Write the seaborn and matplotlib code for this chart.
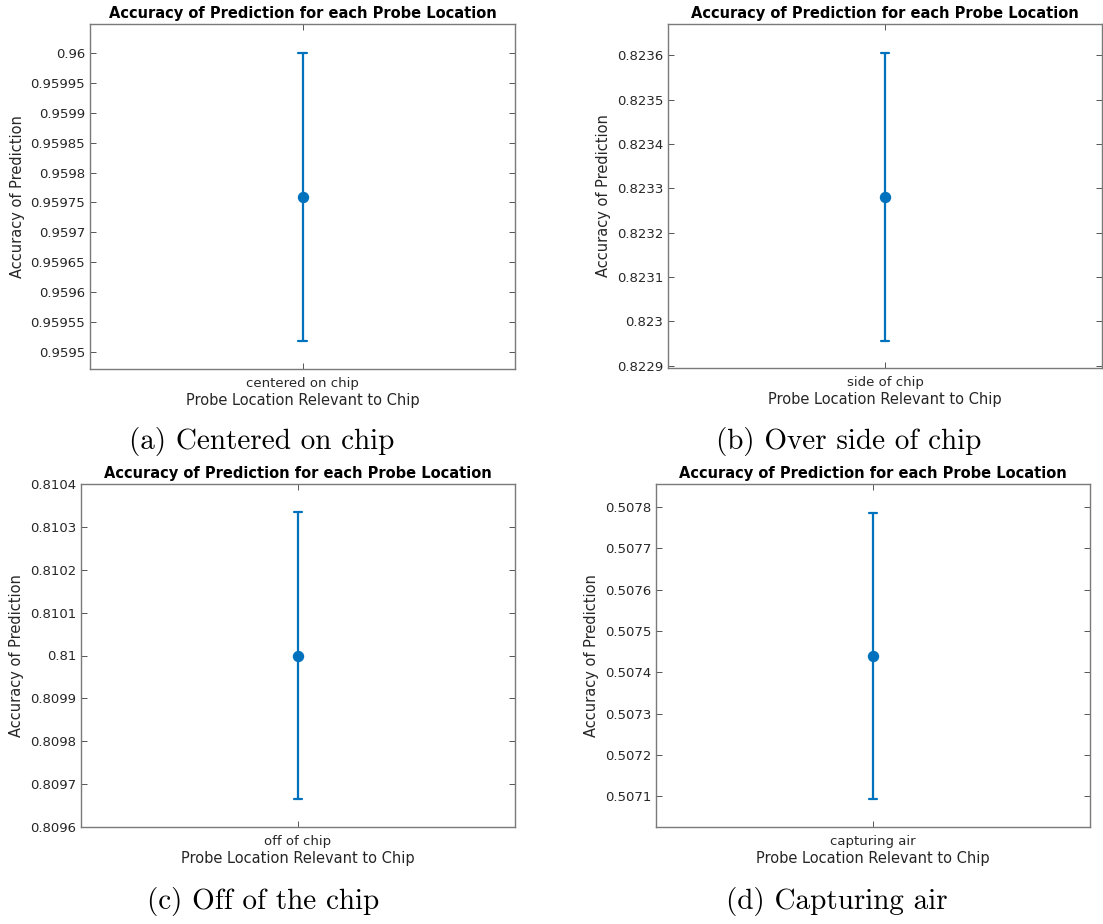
import numpy as np
import pandas as pd
import seaborn as sns
import matplotlib.pyplot as plt

# values
locations = ['centered on chip', 'side of chip', 'off of chip', 'capturing air']
captions = ['(a) Centered on chip', '(b) Over side of chip',
            '(c) Off of the chip', '(d) Capturing air']
acc_mean = [0.959759, 0.823280, 0.810000, 0.507440]
acc_low = [0.959518, 0.822956, 0.809665, 0.507094]
acc_high = [0.960000, 0.823605, 0.810335, 0.507786]

yticks_a = [0.9595, 0.95955, 0.9596, 0.95965, 0.9597, 0.95975,
            0.9598, 0.95985, 0.9599, 0.95995, 0.96]
yticks_b = [0.8229, 0.823, 0.8231, 0.8232, 0.8233, 0.8234, 0.8235, 0.8236]
yticks_c = [0.8096, 0.8097, 0.8098, 0.8099, 0.81, 0.8101, 0.8102, 0.8103, 0.8104]
yticks_d = [0.5071, 0.5072, 0.5073, 0.5074, 0.5075, 0.5076, 0.5077, 0.5078]
yticks_all = [yticks_a, yticks_b, yticks_c, yticks_d]
ylims = [(0.959472, 0.960048), (0.822895, 0.823671),
         (0.8096, 0.8104), (0.507026, 0.507855)]

W, H = 1103, 924
# axes boxes in pixels: left, right, top, bottom
boxes = [(90, 515, 24, 369), (668, 1102, 24, 368),
         (81, 515, 484, 827), (656, 1090, 484, 827)]
cap_pos = [(262, 442), (849, 442), (263, 901), (837, 901)]

sns.set_theme(style='white')
plt.rcParams['font.family'] = ['DejaVu Sans']

fig = plt.figure(figsize=(W / 100, H / 100), dpi=100)

for i in range(4):
    l, r, t, b = boxes[i]
    ax = fig.add_axes([l / W, 1 - b / H, (r - l) / W, (b - t) / H])
    df = pd.DataFrame({'location': [locations[i]] * 3,
                       'accuracy': [acc_low[i], acc_mean[i], acc_high[i]]})
    sns.pointplot(data=df, x='location', y='accuracy', estimator='median',
                  errorbar=('pi', 100), color='#0072BD', capsize=0.02,
                  markersize=7, linewidth=1.6,
                  err_kws={'linewidth': 1.6}, ax=ax)
    ax.set_ylim(*ylims[i])
    ax.set_yticks(yticks_all[i])
    ax.set_yticklabels([f'{v:.6f}'.rstrip('0') for v in yticks_all[i]])
    ax.tick_params(direction='in', left=True, bottom=True, right=True, top=True,
                   length=4, width=0.7, color='#555555', labelcolor='#262626',
                   labelsize=9.5)
    ax.tick_params(axis='x', pad=6)
    for s in ax.spines.values():
        s.set_visible(True)
        s.set_color('#7a7a7a')
        s.set_linewidth(1.0)
    ax.set_title('Accuracy of Prediction for each Probe Location',
                 fontweight='bold', fontsize=10.5, pad=4, color='black')
    ax.set_xlabel('Probe Location Relevant to Chip', fontsize=10.5,
                  color='#262626', labelpad=2)
    ax.set_ylabel('Accuracy of Prediction', fontsize=10.5, color='#262626')
    cx, cy = cap_pos[i]
    fig.text(cx / W, 1 - cy / H, captions[i], fontname='cmr10', fontsize=21,
             ha='center', va='center', color='black')

fig.savefig('out.png', dpi=100)
